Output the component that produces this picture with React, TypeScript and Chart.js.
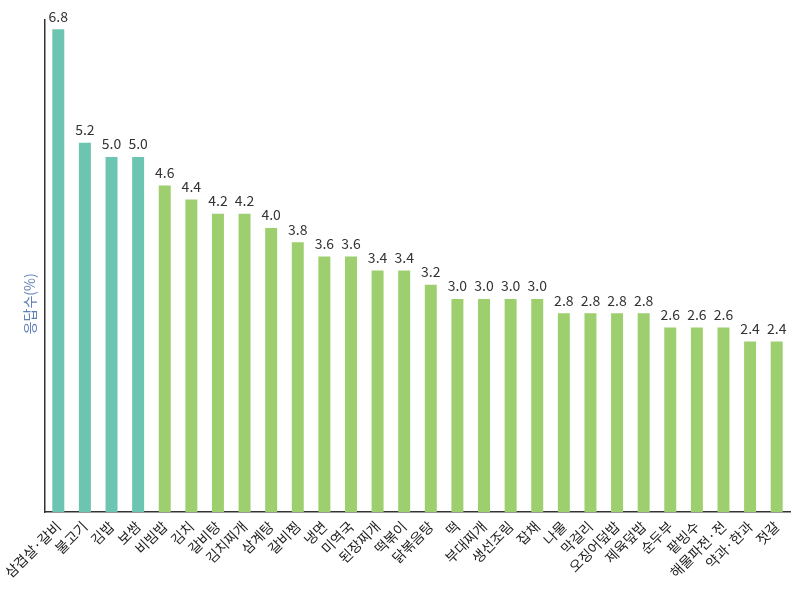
import React, { useEffect, useRef } from "react";
import { Chart, registerables } from "chart.js";

Chart.register(...registerables);

const categories = [
  "삼겹살·갈비", "불고기", "김밥", "보쌈", "비빔밥", "김치", "갈비탕", "김치찌개",
  "삼계탕", "갈비찜", "냉면", "미역국", "된장찌개", "떡볶이", "닭볶음탕", "떡",
  "부대찌개", "생선조림", "잡채", "나물", "막걸리", "오징어덮밥", "제육덮밥", "순두부",
  "팥빙수", "해물파전·전", "약과·한과", "젓갈",
];
const values = [
  6.8, 5.2, 5.0, 5.0, 4.6, 4.4, 4.2, 4.2, 4.0, 3.8, 3.6, 3.6, 3.4, 3.4, 3.2, 3.0,
  3.0, 3.0, 3.0, 2.8, 2.8, 2.8, 2.8, 2.6, 2.6, 2.6, 2.4, 2.4,
];
const highlightCount = 4;
const yTitle = "응답수(%)";

const TEAL = "#6cc5b0";
const GREEN = "#9dcf6e";
const FONT = "'Noto Sans CJK KR', 'Noto Sans', sans-serif";

const valueLabels = {
  id: "valueLabels",
  afterDatasetsDraw(chart: any) {
    const ctx = chart.ctx;
    const meta = chart.getDatasetMeta(0);
    ctx.save();
    ctx.font = `14px ${FONT}`;
    ctx.fillStyle = "#333";
    ctx.textAlign = "center";
    ctx.textBaseline = "bottom";
    meta.data.forEach((bar: any, i: number) => {
      ctx.fillText(values[i].toFixed(1), bar.x, bar.y - 6);
    });
    ctx.restore();
  },
};

const yTitlePlugin = {
  id: "yTitlePlugin",
  afterDraw(chart: any) {
    const ctx = chart.ctx;
    const a = chart.chartArea;
    ctx.save();
    ctx.translate(a.left - 15, a.top + (a.bottom - a.top) * 0.577);
    ctx.rotate(-Math.PI / 2);
    ctx.font = `14px ${FONT}`;
    ctx.fillStyle = "#5d7fb8";
    ctx.textAlign = "center";
    ctx.textBaseline = "middle";
    ctx.fillText(yTitle, 0, 0);
    ctx.restore();
  },
};

export default function App() {
  const ref = useRef<HTMLCanvasElement>(null);
  useEffect(() => {
    document.body.style.margin = "0";
    const chart = new Chart(ref.current!, {
      type: "bar",
      data: {
        labels: categories,
        datasets: [
          {
            data: values,
            backgroundColor: values.map((_, i) => (i < highlightCount ? TEAL : GREEN)),
            barPercentage: 0.9,
            categoryPercentage: 0.5,
          },
        ],
      },
      options: {
        animation: false,
        responsive: false,
        layout: { padding: { top: 20, right: 10, left: 0, bottom: 0 } },
        plugins: { legend: { display: false }, tooltip: { enabled: false } },
        scales: {
          x: {
            grid: { display: false, drawTicks: false },
            border: { color: "#333", width: 1.5 },
            ticks: {
              color: "#222",
              font: { family: FONT, size: 14 },
              minRotation: 45,
              maxRotation: 45,
              padding: 6,
              autoSkip: false,
            },
            afterFit(scale: any) {
              scale.height = 90;
            },
          },
          y: {
            min: 0,
            max: 6.93,
            grid: { display: false, drawTicks: false },
            border: { color: "#333", width: 1.5 },
            ticks: { display: false },
            afterFit(scale: any) {
              scale.width = 45;
            },
          },
        },
      },
      plugins: [valueLabels, yTitlePlugin],
    });
    return () => chart.destroy();
  }, []);
  return (
    <div style={{ width: 800, height: 602, background: "#fff" }}>
      <canvas ref={ref} width={800} height={602} />
    </div>
  );
}
